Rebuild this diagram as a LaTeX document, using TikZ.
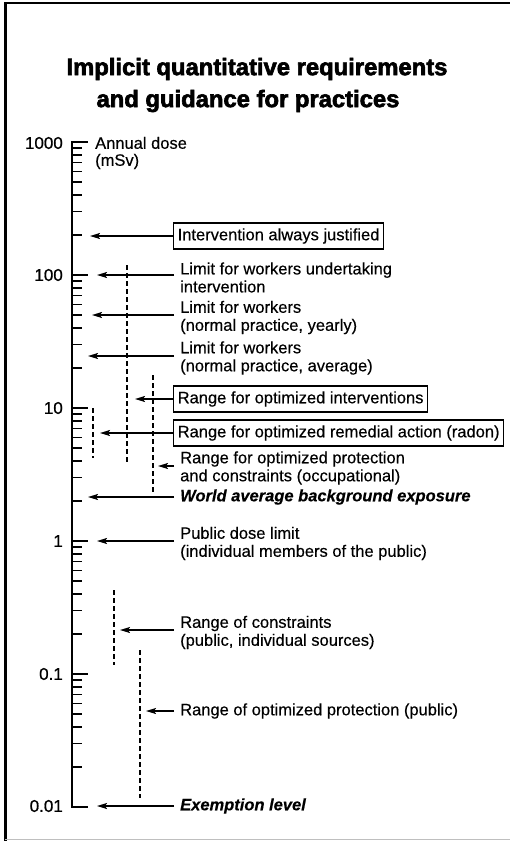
\documentclass[tikz,border=0pt]{standalone}
\usepackage{fontspec}
\setmainfont{Liberation Sans}[FakeBold=0.35]
\newfontfamily\titlefont[FakeBold=2.6]{Liberation Sans Bold}
\newfontfamily\numfont[FakeBold=0.9]{Liberation Sans}
\usetikzlibrary{arrows.meta}
\begin{document}
\begin{tikzpicture}[x=1pt,y=-1pt,
  txt/.style={font=\fontsize{16.5}{18}\selectfont},
  lbl/.style={txt, anchor=west, align=left, inner xsep=6pt, inner ysep=0pt},
  boxlbl/.style={txt, anchor=west, draw, line width=1.4pt, inner xsep=4pt, inner ysep=0pt, minimum height=26pt},
  emph/.style={lbl, font=\fontsize{16.5}{18}\selectfont\bfseries\itshape},
  num/.style={anchor=east, inner sep=0pt, font=\numfont\fontsize{17}{18}\selectfont},
  ttl/.style={inner sep=0pt, font=\titlefont\fontsize{23.8}{30}\selectfont},
  arr/.style={line width=1.6pt, -{Stealth[length=10pt,width=6pt,inset=2pt]}},
  rng/.style={line width=1.6pt, dash pattern=on 5pt off 3pt},
  axisline/.style={line width=2pt},
  minortick/.style={line width=1.6pt},
  majortick/.style={line width=1.8pt}
]
\useasboundingbox (0,0) rectangle (510,841);
% frame
\draw[line width=3pt] (5,2) -- (5,841);
\draw[line width=2pt] (4,3) -- (510,3);
\draw[line width=0.6pt, black!25] (5,839.5) -- (510,839.5);

% title
\node[ttl] (title1) at (257,69) {Implicit quantitative requirements};
\node[ttl] (title2) at (248,101) {and guidance for practices};

% axis
\draw[axisline] (72,142) -- (72,806);
\foreach \e in {-2,-1,0,1,2}{
  \foreach \m in {2,...,9}{
    \draw[minortick] (72,{541-133*(\e+log10(\m))}) -- (82,{541-133*(\e+log10(\m))});
  }
}
\foreach \e in {-2,...,3}{
  \draw[majortick] (71,{541-133*\e}) -- (88,{541-133*\e});
}
\node[num] (n1000) at (63,143) {1000};
\node[num] (n100) at (63,275) {100};
\node[num] (n10) at (63,408) {10};
\node[num] (n1) at (63,541) {1};
\node[num] (n01) at (63,674) {0.1};
\node[num] (n001) at (63,806) {0.01};
\node[lbl, inner xsep=5pt] (unit) at (90,153) {Annual dose\\[-1pt](mSv)};

% dashed ranges
\draw[rng] (127,265) -- (127,462);
\draw[rng] (153,375) -- (153,492);
\draw[rng] (93,408) -- (93,458);
\draw[rng] (114,590) -- (114,665);
\draw[rng] (140,650) -- (140,798);

% arrow tips
\coordinate (t200) at (90,236);
\coordinate (t100) at (97,275);
\coordinate (t50) at (92,315);
\coordinate (t25) at (88,356);
\coordinate (tint) at (135,399);
\coordinate (trad) at (100,433);
\coordinate (tocc) at (158,466);
\coordinate (twld) at (88,497);
\coordinate (tpub) at (97,541);
\coordinate (tcon) at (120,630);
\coordinate (topt) at (146,711);
\coordinate (texe) at (97,806);

% labels
\node[boxlbl] (b200) at (173,236) {Intervention always justified};
\node[lbl] (l100) at (174,277.5) {Limit for workers undertaking\\intervention};
\node[lbl] (l50) at (174,317.5) {Limit for workers\\(normal practice, yearly)};
\node[lbl] (l25) at (174,358) {Limit for workers\\(normal practice, average)};
\node[boxlbl] (bint) at (173,399) {Range for optimized interventions};
\node[boxlbl] (brad) at (173,433) {Range for optimized remedial action (radon)};
\node[lbl] (locc) at (174,468) {Range for optimized protection\\and constraints (occupational)};
\node[emph] (lwld) at (174,497) {World average background exposure};
\node[lbl] (lpub) at (174,543.5) {Public dose limit\\(individual members of the public)};
\node[lbl] (lcon) at (174,632.5) {Range of constraints\\(public, individual sources)};
\node[lbl] (lopt) at (174,711) {Range of optimized protection (public)};
\node[emph] (lexe) at (174,806) {Exemption level};

% connectors
\draw[arr] (b200.west |- t200) -- (t200);
\draw[arr] (l100.west |- t100) -- (t100);
\draw[arr] (l50.west |- t50) -- (t50);
\draw[arr] (l25.west |- t25) -- (t25);
\draw[arr] (bint.west |- tint) -- (tint);
\draw[arr] (brad.west |- trad) -- (trad);
\draw[arr] (locc.west |- tocc) -- (tocc);
\draw[arr] (lwld.west |- twld) -- (twld);
\draw[arr] (lpub.west |- tpub) -- (tpub);
\draw[arr] (lcon.west |- tcon) -- (tcon);
\draw[arr] (lopt.west |- topt) -- (topt);
\draw[arr] (lexe.west |- texe) -- (texe);
\end{tikzpicture}
\end{document}
